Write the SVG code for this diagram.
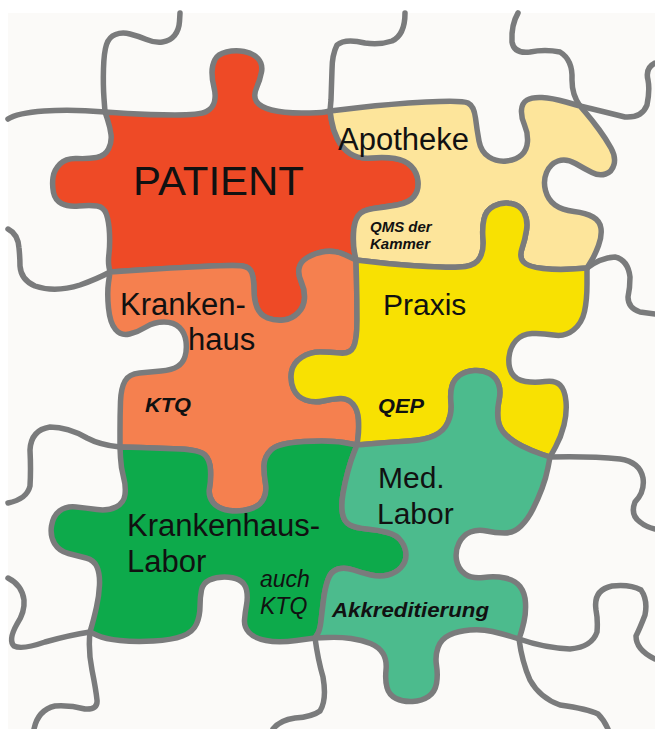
<svg xmlns="http://www.w3.org/2000/svg" width="655" height="729" viewBox="0 0 655 729">
<style>
.pc{stroke:#7a7b7c;stroke-width:5.5;stroke-linejoin:round;stroke-linecap:round}
.ln{fill:none;stroke:#7a7b7c;stroke-width:5.5;stroke-linejoin:round;stroke-linecap:round}
.t{font-family:"Liberation Sans",Arial,sans-serif;fill:#111}
.big{font-size:31px}
.bi{font-weight:bold;font-style:italic}
</style>
<rect x="0" y="0" width="655" height="729" fill="#ffffff"/>
<rect x="8" y="13" width="647" height="716" fill="#fbfaf8"/>

<g id="grid">
<path class="ln" d="M180,13 L179.5,21.5 Q179,30 174.5,35.5 Q170,41 162.5,42 Q155,43 146.5,39.5 Q138,36 130,34 Q122,32 115.5,34.5 Q109,37 106.5,44.5 Q104,52 103.5,68.5 Q103,85 104,98.5 L105,112"/>
<path class="ln" d="M8,119 C20,111 60,108 105,112"/>
<path class="ln" d="M8,229 Q18,234 19,248 Q20,258 20,266 Q21,280 35,286 Q55,293 80,285 Q97,279 110,272"/>
<path class="ln" d="M8,503 Q27,499 30,486 Q31,470 30,450 Q31,430 50,427 Q68,427 87,438 Q100,445 120,447"/>
<path class="ln" d="M8,578 Q22,585 24,600 Q25,612 17,624 Q8,640 14,646 Q22,650 45,642 Q70,635 90,632"/>
<path class="ln" d="M90,632 Q88,650 92,670 Q96,690 97,700 Q98,710 85,709 Q70,705 55,706 Q38,710 34,729"/>
<path class="ln" d="M315,638 Q318,660 323,677 Q327,700 320,711 Q312,717 295,718 Q280,720 273,729"/>
<path class="ln" d="M519,639 Q522,662 530,680 Q540,698 560,705 Q588,709 598,714 Q604,720 608,729"/>
<path class="ln" d="M519,639 Q545,648 570,649 Q592,647 597,632 Q598,620 596,610 Q593,590 612,586 Q630,584 641,590 Q648,600 645,615 Q640,628 636,636 Q636,650 655,659"/>
<path class="ln" d="M550,457 Q590,456 620,459 Q640,462 643,478 Q645,492 635,502 Q630,515 640,522 Q646,527 655,529"/>
<path class="ln" d="M587,268 Q600,258 615,257 Q628,260 630,277 Q630,288 628,297 Q628,308 640,312 L655,314"/>
<path class="ln" d="M580,106 Q605,112 625,117 Q642,118 647,105 Q650,90 648,80 Q645,68 655,63"/>
<path class="ln" d="M580,106 Q572,95 572,80 Q573,60 560,52 Q545,49 530,52 Q514,54 512,42 Q511,25 518,13"/>
<path class="ln" d="M405,13 Q405,35 392,41 Q380,45 365,43 Q345,38 337,45 Q332,55 332,70 L331,100 L330,111"/>
</g>

<g id="patient">
<path class="pc" fill="#ee4a26" d="M105,112 L127.5,113.5 Q150,115 175,115 Q200,115 206.5,111.5 Q213,108 214.5,101.5 Q216,95 214,87.5 Q212,80 212,72.5 Q212,65 215,59.5 Q218,54 226.5,52 Q235,50 244,51.5 Q253,53 258,58.5 Q263,64 261.5,72 Q260,80 256.5,88 Q253,96 256.5,101.5 Q260,107 271.5,110 Q283,113 301.5,113 Q320,113 325,112 L330,111 L331.5,120.5 Q333,130 337.5,139 Q342,148 350,153.5 Q358,159 371.5,158 Q385,157 395,158.5 Q405,160 411,166 Q417,172 418,181 Q419,190 414,196.5 Q409,203 397,205 Q385,207 373.5,208.5 Q362,210 358,216 Q354,222 353.5,233.5 Q353,245 354.5,252.5 L356,260 L345.5,255 Q335,250 325,251.5 Q315,253 307.5,257.5 Q300,262 299,268.5 Q298,275 301.5,282.5 Q305,290 304.5,298.5 Q304,307 298,313 Q292,319 283.5,320 Q275,321 267.5,318 Q260,315 257,307.5 Q254,300 254,290 Q254,280 252,273.5 Q250,267 242.5,266 Q235,265 202.5,266.5 Q170,268 140,270 L110,272 L109,267 Q108,262 109,253.5 Q110,245 109.5,233.5 Q109,222 106.5,214.5 Q104,207 97,206 Q90,205 79,206 Q68,207 61.5,203.5 Q55,200 53.5,192.5 Q52,185 53,177.5 Q54,170 60,164 Q66,158 77,158.5 Q88,159 96.5,157.5 Q105,156 108.5,149 Q112,142 111,134.5 Q110,127 107.5,119.5 Z"/>
<text class="t" x="133" y="195" font-size="40" textLength="171" lengthAdjust="spacingAndGlyphs">PATIENT</text>
</g>

<g id="apotheke">
<path class="pc" fill="#fde59b" d="M330,111 L360,107.5 Q390,104 426,102 Q462,100 468,103 Q474,106 475.5,118 Q477,130 479,141 Q481,152 489,157 Q497,162 506.5,161 Q516,160 521.5,155 Q527,150 527.5,141.5 Q528,133 524.5,125 Q521,117 521.5,110 Q522,103 527,100 Q532,97 542,97.5 Q552,98 566,102 L580,106 L586,113 Q592,120 599,129.5 Q606,139 611,148 Q616,157 614,164.5 Q612,172 605.5,174 Q599,176 592,172.5 Q585,169 575.5,163.5 Q566,158 558,161 Q550,164 546.5,172.5 Q543,181 545.5,190.5 Q548,200 555,205 Q562,210 574,211.5 Q586,213 593,217 Q600,221 601,228.5 Q602,236 598.5,245.5 Q595,255 591,261.5 L587,268 L572.5,269 Q558,270 543,268.5 Q528,267 523.5,262 Q519,257 522,248.5 Q525,240 526.5,230 Q528,220 524,212.5 Q520,205 511,203.5 Q502,202 494,206 Q486,210 484,219 Q482,228 483,239 Q484,250 480,257.5 Q476,265 465.5,266.5 Q455,268 427.5,266.5 Q400,265 378,262.5 L356,260 L354.5,252.5 Q353,245 353.5,233.5 Q354,222 358,216 Q362,210 373.5,208.5 Q385,207 397,205 Q409,203 414,196.5 Q419,190 418,181 Q417,172 411,166 Q405,160 395,158.5 Q385,157 371.5,158 Q358,159 350,153.5 Q342,148 337.5,139 Q333,130 331.5,120.5 Z"/>
<text class="t" x="338" y="150" font-size="31">Apotheke</text>
<text class="t bi" x="370" y="232" font-size="15">QMS der</text>
<text class="t bi" x="370" y="249" font-size="15">Kammer</text>
</g>

<g id="krankenhaus">
<path class="pc" fill="#f5804f" d="M110,272 L140,270 Q170,268 202.5,266.5 Q235,265 242.5,266 Q250,267 252,273.5 Q254,280 254,290 Q254,300 257,307.5 Q260,315 267.5,318 Q275,321 283.5,320 Q292,319 298,313 Q304,307 304.5,298.5 Q305,290 301.5,282.5 Q298,275 299,268.5 Q300,262 307.5,257.5 Q315,253 325,251.5 Q335,250 345.5,255 L356,260 L356.5,280 Q357,300 357,320 Q357,340 353.5,347 Q350,354 340,353 Q330,352 320,352 Q310,352 301.5,357.5 Q293,363 291.5,372 Q290,381 293.5,389 Q297,397 305.5,400 Q314,403 323,401 Q332,399 340,398.5 Q348,398 353,404 Q358,410 358.5,420 Q359,430 358,437.5 L357,445 L343.5,442.5 Q330,440 304,441.5 Q278,443 271,450 Q264,457 264,466 Q264,475 265.5,483.5 Q267,492 263.5,499 Q260,506 250,509 Q240,512 229,510.5 Q218,509 213,502.5 Q208,496 209.5,488 Q211,480 210.5,470 Q210,460 205,455 Q200,450 180,449 Q160,448 140,447.5 L120,447 L120,431 Q120,415 120.5,401.5 Q121,388 125,381 Q129,374 139.5,373 Q150,372 161,371 Q172,370 177.5,366.5 Q183,363 185,356.5 Q187,350 186,341.5 Q185,333 179.5,327.5 Q174,322 164,322 Q154,322 146,327 Q138,332 129.5,334 Q121,336 115.5,329.5 Q110,323 108.5,308 Q107,293 108.5,282.5 Z"/>
<text class="t big" x="120" y="315">Kranken-</text>
<text class="t big" x="188" y="350">haus</text>
<text class="t bi" x="145" y="412" font-size="20" textLength="46" lengthAdjust="spacingAndGlyphs">KTQ</text>
</g>

<g id="praxis">
<path class="pc" fill="#f8e102" d="M356,260 L378,262.5 Q400,265 427.5,266.5 Q455,268 465.5,266.5 Q476,265 480,257.5 Q484,250 483,239 Q482,228 484,219 Q486,210 494,206 Q502,202 511,203.5 Q520,205 524,212.5 Q528,220 526.5,230 Q525,240 522,248.5 Q519,257 523.5,262 Q528,267 543,268.5 Q558,270 572.5,269 L587,268 L587,284 Q587,300 584.5,311.5 Q582,323 573.5,330 Q565,337 553.5,335 Q542,333 532,333.5 Q522,334 516,340.5 Q510,347 509,357 Q508,367 512,373.5 Q516,380 525.5,381.5 Q535,383 545,381.5 Q555,380 560,385 Q565,390 566,401.5 Q567,413 564,425 Q561,437 555.5,447 L550,457 L541,454 Q532,451 522,446 Q512,441 505.5,434.5 Q499,428 498,419 Q497,410 499,400.5 Q501,391 498.5,384 Q496,377 489.5,373.5 Q483,370 474.5,370.5 Q466,371 460,375 Q454,379 452,386 Q450,393 451,403 Q452,413 448,422 Q444,431 434.5,435.5 Q425,440 408.5,441 Q392,442 374.5,443.5 L357,445 L358,437.5 Q359,430 358.5,420 Q358,410 353,404 Q348,398 340,398.5 Q332,399 323,401 Q314,403 305.5,400 Q297,397 293.5,389 Q290,381 291.5,372 Q293,363 301.5,357.5 Q310,352 320,352 Q330,352 340,353 Q350,354 353.5,347 Q357,340 357,320 Q357,300 356.5,280 Z"/>
<text class="t" x="383" y="315" font-size="30">Praxis</text>
<text class="t bi" x="378" y="413" font-size="20" textLength="46" lengthAdjust="spacingAndGlyphs">QEP</text>
</g>

<g id="krankenhaus-labor">
<path class="pc" fill="#0daa4b" d="M120,447 L140,447.5 Q160,448 180,449 Q200,450 205,455 Q210,460 210.5,470 Q211,480 209.5,488 Q208,496 213,502.5 Q218,509 229,510.5 Q240,512 250,509 Q260,506 263.5,499 Q267,492 265.5,483.5 Q264,475 264,466 Q264,457 271,450 Q278,443 304,441.5 Q330,440 343.5,442.5 L357,445 L354,452.5 Q351,460 348,471 Q345,482 343,493.5 Q341,505 342.5,513.5 Q344,522 350,525 Q356,528 367,529 Q378,530 387.5,532.5 Q397,535 401.5,541.5 Q406,548 406,555 Q406,562 401,567.5 Q396,573 388,575 Q380,577 371,575 Q362,573 353.5,570 Q345,567 338,569 Q331,571 328,579.5 Q325,588 323.5,600 Q322,612 321,621 Q320,630 317.5,634 L315,638 L296.5,640.5 Q278,643 266,640.5 Q254,638 249,632.5 Q244,627 244.5,620 Q245,613 246.5,605 Q248,597 246.5,590 Q245,583 239,580 Q233,577 224.5,577 Q216,577 209.5,580 Q203,583 201.5,590 Q200,597 200,606.5 Q200,616 196.5,624 Q193,632 182.5,636 Q172,640 153.5,641 Q135,642 120,640.5 Q105,639 97.5,635.5 L90,632 L92,625 Q94,618 96.5,607 Q99,596 99.5,585 Q100,574 97,567 Q94,560 86,558 Q78,556 68.5,553.5 Q59,551 54.5,543.5 Q50,536 51.5,526 Q53,516 59.5,511 Q66,506 76,507 Q86,508 97,509.5 Q108,511 116,507 Q124,503 125,494.5 Q126,486 123.5,477 Q121,468 120.5,457.5 Z"/>
<text class="t big" x="127" y="536">Krankenhaus-</text>
<text class="t big" x="127" y="572">Labor</text>
<text class="t" x="260" y="587" font-size="23" font-style="italic">auch</text>
<text class="t" x="260" y="614" font-size="23" font-style="italic">KTQ</text>
</g>

<g id="med-labor">
<path class="pc" fill="#4cbb8d" d="M357,445 L374.5,443.5 Q392,442 408.5,441 Q425,440 434.5,435.5 Q444,431 448,422 Q452,413 451,403 Q450,393 452,386 Q454,379 460,375 Q466,371 474.5,370.5 Q483,370 489.5,373.5 Q496,377 498.5,384 Q501,391 499,400.5 Q497,410 498,419 Q499,428 505.5,434.5 Q512,441 522,446 Q532,451 541,454 L550,457 L548,467.5 Q546,478 542,488.5 Q538,499 533,509 Q528,519 521,526 Q514,533 504.5,533 Q495,533 486.5,531 Q478,529 470.5,532 Q463,535 459,543 Q455,551 456.5,560 Q458,569 465,574 Q472,579 483.5,577.5 Q495,576 505,578 Q515,580 520,586.5 Q525,593 525.5,603 Q526,613 524,621.5 Q522,630 520.5,634.5 L519,639 L511,636.5 Q503,634 492.5,631.5 Q482,629 470,630 Q458,631 449.5,635 Q441,639 438,647.5 Q435,656 436.5,665.5 Q438,675 436.5,683.5 Q435,692 428.5,696.5 Q422,701 412.5,701.5 Q403,702 396,698.5 Q389,695 387,687.5 Q385,680 386,670 Q387,660 383,653.5 Q379,647 370.5,643.5 Q362,640 351,638.5 Q340,637 327.5,637.5 L315,638 L317.5,634 Q320,630 321,621 Q322,612 323.5,600 Q325,588 328,579.5 Q331,571 338,569 Q345,567 353.5,570 Q362,573 371,575 Q380,577 388,575 Q396,573 401,567.5 Q406,562 406,555 Q406,548 401.5,541.5 Q397,535 387.5,532.5 Q378,530 367,529 Q356,528 350,525 Q344,522 342.5,513.5 Q341,505 343,493.5 Q345,482 348,471 Q351,460 354,452.5 Z"/>
<text class="t" x="378" y="488" font-size="30">Med.</text>
<text class="t" x="377" y="524" font-size="30">Labor</text>
<text class="t bi" x="332" y="617" font-size="20" textLength="157" lengthAdjust="spacingAndGlyphs">Akkreditierung</text>
</g>
</svg>
